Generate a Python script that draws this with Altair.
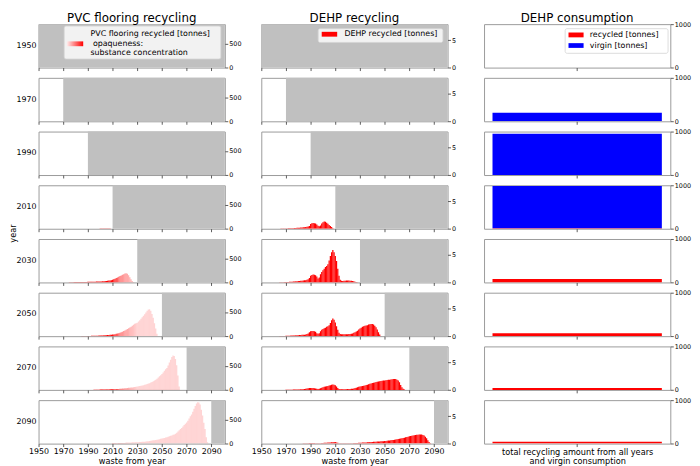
import altair as alt
import pandas as pd

# ---------------- data ----------------
ROW_YEARS = [1950, 1970, 1990, 2010, 2030, 2050, 2070, 2090]
X_TICKS = [1950, 1970, 1990, 2010, 2030, 2050, 2070, 2090]
X_START, X_END = 1950, 2101

COL_TITLES = ["PVC flooring recycling", "DEHP recycling", "DEHP consumption"]
Y_MAX = [900, 7.9, 1000]
Y_TICKS = [[0, 500], [0, 5], [0, 1000]]

# PVC flooring recycled [tonnes], by waste year (first year, yearly values)
PVC_2010 = (1995, [1, 1, 2, 2, 2, 3, 3, 4, 4, 5, 5, 6, 5, 3, 1])
PVC_2030 = (1975, [5, 5, 6, 6, 7, 7, 8, 8, 9, 9, 10, 10, 11, 11, 12,
                   13, 13, 14, 15, 15, 16, 17, 18, 19, 20,
                   21, 22, 24, 26, 29, 32, 35, 39, 43, 47,
                   55, 65, 78, 92, 105, 118, 132, 146, 160, 172,
                   185, 192, 180, 150, 110, 66, 30, 8])
PVC_2050 = (1985, [3, 3, 4, 4, 5, 5, 6, 6, 7, 8, 8, 9, 10, 11, 12,
                   13, 14, 15, 17, 19, 21, 23, 25, 27, 30,
                   33, 37, 42, 48, 55, 62, 70, 80, 92, 105,
                   118, 132, 147, 162, 178, 197, 215, 235, 255, 270,
                   280, 305, 330, 360, 390, 425, 455, 490, 525, 552,
                   555, 525, 460, 380, 270, 160, 50])
PVC_2070 = (1995, [3, 3, 4, 4, 5,
                   6, 6, 7, 7, 8, 8, 9, 10, 11, 12,
                   13, 14, 15, 16, 18, 20, 22, 24, 27, 30,
                   33, 36, 39, 42, 45, 48, 52, 56, 60, 64,
                   68, 73, 78, 84, 90, 97, 105, 113, 122, 131,
                   140, 152, 165, 180, 195, 212, 230, 255, 280, 305,
                   330, 360, 395, 425, 455, 505, 565, 625, 680, 712,
                   700, 640, 510, 300, 70])
PVC_2090 = (2005, [2, 2, 3, 3, 4,
                   5, 6, 7, 8, 9, 10, 11, 12, 13, 14,
                   15, 16, 17, 18, 19, 20, 21, 22, 24, 26,
                   28, 30, 32, 34, 36, 38, 40, 43, 47, 51,
                   55, 59, 63, 67, 71, 76, 81, 86, 92, 98,
                   104, 110, 117, 125, 133, 142, 151, 160, 170, 182,
                   190, 205, 225, 250, 275, 300, 325, 355, 385, 410,
                   435, 475, 520, 565, 605, 660, 720, 780, 830, 855,
                   850, 810, 700, 580, 430, 300, 130, 30])
PVC = {2010: PVC_2010, 2030: PVC_2030, 2050: PVC_2050, 2070: PVC_2070, 2090: PVC_2090}

# opaqueness (substance concentration) by waste year
OPAQ_EARLY = 1.0
OPAQ_START = 2009
OPAQ = [1.0, 0.95, 0.9, 0.8, 0.7, 0.62, 0.55, 0.5, 0.46, 0.42, 0.4,
        0.38, 0.36, 0.34, 0.32, 0.3, 0.28, 0.26, 0.24, 0.22, 0.2]
OPAQ_LATE = 0.17

# DEHP recycled [tonnes], by waste year
DEHP_2010 = (1965, [0.02, 0.03, 0.03, 0.04, 0.05,
                    0.05, 0.06, 0.07, 0.08, 0.09, 0.1, 0.11, 0.13, 0.15, 0.17,
                    0.19, 0.2, 0.22, 0.24, 0.26, 0.28, 0.31, 0.35, 0.4, 0.5,
                    0.85, 1.0, 1.05, 1.0, 0.95, 0.75, 0.55, 0.45, 0.6, 0.95,
                    1.2, 1.3, 1.25, 1.1, 0.9, 0.7, 0.5, 0.3, 0.1])
DEHP_2030 = (1965, [0.03, 0.04, 0.05, 0.06, 0.07,
                    0.08, 0.09, 0.1, 0.11, 0.13, 0.15, 0.17, 0.19, 0.21, 0.23,
                    0.25, 0.27, 0.3, 0.32, 0.35, 0.38, 0.42, 0.48, 0.6, 0.8,
                    1.2, 1.35, 1.45, 1.4, 1.3, 1.1, 0.7, 0.9, 1.5, 1.9,
                    2.2, 2.5, 2.8, 3.0, 3.3, 4.0, 4.8, 5.5, 5.9, 5.5,
                    4.8, 3.9, 2.5, 1.2, 0.5, 0.3, 0.28, 0.3, 0.32, 0.34,
                    0.35, 0.35, 0.33, 0.3, 0.27, 0.22, 0.15, 0.08, 0.03])
DEHP_2050 = (1965, [0.02, 0.03, 0.03, 0.04, 0.05,
                    0.06, 0.07, 0.08, 0.09, 0.1, 0.11, 0.12, 0.14, 0.15, 0.17,
                    0.18, 0.2, 0.22, 0.24, 0.26, 0.28, 0.32, 0.38, 0.5, 0.7,
                    0.9, 0.95, 0.95, 0.9, 0.8, 0.55, 0.45, 0.55, 0.9, 1.15,
                    1.3, 1.45, 1.55, 1.7, 1.8, 2.0, 2.4, 2.9, 3.2, 3.0,
                    2.5, 1.8, 1.15, 0.6, 0.4, 0.35, 0.33, 0.33, 0.34, 0.35,
                    0.37, 0.38, 0.4, 0.43, 0.5, 0.6, 0.72, 0.85, 1.0, 1.2,
                    1.4, 1.55, 1.7, 1.8, 1.9, 1.95, 2.0, 2.1, 2.15, 2.2,
                    2.2, 2.1, 1.9, 1.6, 1.2, 0.7, 0.3, 0.05])
DEHP_2070 = (1970, [0.02, 0.02, 0.03, 0.03, 0.04, 0.04, 0.05, 0.05, 0.06, 0.07,
                    0.08, 0.09, 0.1, 0.11, 0.12, 0.14, 0.2, 0.25, 0.3, 0.33,
                    0.35, 0.35, 0.33, 0.3, 0.25, 0.2, 0.17, 0.2, 0.3, 0.4,
                    0.5, 0.55, 0.6, 0.65, 0.7, 0.8, 0.85, 0.95, 1.0, 0.95,
                    0.85, 0.6, 0.35, 0.17, 0.12, 0.1, 0.1, 0.11, 0.12, 0.13,
                    0.14, 0.15, 0.17, 0.19, 0.22, 0.27, 0.33, 0.4, 0.48, 0.56,
                    0.62, 0.66, 0.71, 0.76, 0.82, 0.88, 0.95, 1.02, 1.1, 1.18,
                    1.25, 1.3, 1.36, 1.42, 1.48, 1.54, 1.58, 1.62, 1.66, 1.7,
                    1.72, 1.75, 1.78, 1.82, 1.86, 1.9, 1.95, 1.98, 2.0, 1.97,
                    1.85, 1.7, 1.4, 0.9, 0.5, 0.2, 0.05])
DEHP_2090 = (1975, [0.02, 0.02, 0.02, 0.03, 0.03,
                    0.03, 0.04, 0.04, 0.04, 0.05, 0.05, 0.06, 0.07, 0.08, 0.09,
                    0.1, 0.1, 0.1, 0.09, 0.08, 0.07, 0.06, 0.07, 0.08, 0.1,
                    0.12, 0.14, 0.15, 0.17, 0.18, 0.2, 0.22, 0.24, 0.26, 0.28,
                    0.27, 0.22, 0.15, 0.08, 0.06, 0.05, 0.05, 0.05, 0.05, 0.06,
                    0.06, 0.06, 0.07, 0.07, 0.08, 0.09, 0.1, 0.11, 0.12, 0.14,
                    0.15, 0.16, 0.18, 0.19, 0.2, 0.22, 0.24, 0.26, 0.28, 0.3,
                    0.31, 0.32, 0.34, 0.35, 0.37, 0.38, 0.4, 0.41, 0.43, 0.45,
                    0.47, 0.49, 0.52, 0.55, 0.58, 0.61, 0.64, 0.67, 0.7, 0.74,
                    0.78, 0.82, 0.87, 0.92, 0.98, 1.03, 1.08, 1.14, 1.2, 1.26,
                    1.32, 1.38, 1.43, 1.48, 1.53, 1.57, 1.6, 1.63, 1.65, 1.66,
                    1.64, 1.58, 1.45, 1.25, 0.95, 0.6, 0.3, 0.1, 0.02])
DEHP = {2010: DEHP_2010, 2030: DEHP_2030, 2050: DEHP_2050, 2070: DEHP_2070, 2090: DEHP_2090}

# DEHP consumption [tonnes] per row year
CONS_SERIES = ["recycled [tonnes]", "virgin [tonnes]"]
CONS_RECYCLED = [0, 0, 0, 10, 80, 70, 45, 40]
CONS_VIRGIN = [0, 195, 950, 975, 0, 0, 0, 0]

# ---------------- style ----------------
W, H = 189, 44.1
ROW_GAP, COL_GAP = 9.5, 37
FONT = "DejaVu Sans"
GREY = "#c0c0c0"
RED, BLUE = "#ff0000", "#0000ff"
ONE = pd.DataFrame({"k": [0]})


def opacity_for(y):
    if y < OPAQ_START:
        return OPAQ_EARLY
    i = y - OPAQ_START
    return OPAQ[i] if i < len(OPAQ) else OPAQ_LATE


def series_df(start, vals, with_op=False):
    years = list(range(start, start + len(vals)))
    d = pd.DataFrame({"year": years, "value": vals})
    d["x0"] = d["year"] - 0.5
    d["x1"] = d["year"] + 0.5
    if with_op:
        d["op"] = [opacity_for(y) for y in years]
    return d


def x_axis(last):
    return alt.Axis(values=X_TICKS, labels=last, ticks=True, tickSize=3, format="d",
                    labelFontSize=8, labelPadding=1.5, labelFlush=False,
                    labelOverlap=False, title="waste from year" if last else None,
                    titleFontSize=8.3, titleFontWeight="normal", titlePadding=1,
                    grid=False, domain=False)


def y_axis(ticks):
    return alt.Axis(orient="right", values=ticks, tickSize=3, labelFontSize=6.5, format="d",
                    labelPadding=1, labelFlush=False, labelOverlap=False,
                    title=None, grid=False, domain=False)


def txt(s, x, y, size=8, align="left", **kw):
    return alt.Chart(ONE).mark_text(text=s, align=align, baseline="middle",
                                    fontSize=size, font=FONT, color="black", **kw
                                    ).encode(x=alt.value(x), y=alt.value(y))


def box(x1, x2, y1, y2, **kw):
    return alt.Chart(ONE).mark_rect(**kw).encode(
        x=alt.value(x1), x2=alt.value(x2), y=alt.value(y1), y2=alt.value(y2))


def col_title(c):
    return txt(COL_TITLES[c], W / 2, -6, size=12, align="center")


def series_panel(c, i, ry, table, with_op):
    last = i == len(ROW_YEARS) - 1
    xs = alt.Scale(domain=[X_START, X_END], nice=False, zero=False)
    ys = alt.Scale(domain=[0, Y_MAX[c]], nice=False)
    xa, ya = x_axis(last), y_axis(Y_TICKS[c])
    grey = alt.Chart(pd.DataFrame({"a": [ry], "b": [X_END]})).mark_rect(color=GREY).encode(
        x=alt.X("a:Q", scale=xs, axis=xa), x2="b:Q",
        y=alt.Y(datum=0, scale=ys, axis=ya), y2=alt.Y2(datum=Y_MAX[c]))
    layers = [grey]
    if ry in table:
        start, vals = table[ry]
        enc = dict(x=alt.X("x0:Q", scale=xs, axis=xa), x2="x1:Q",
                   y=alt.Y("value:Q", scale=ys, axis=ya), y2=alt.Y2(datum=0))
        if with_op:
            enc["opacity"] = alt.Opacity("op:Q", scale=None)
        layers.append(alt.Chart(series_df(start, vals, with_op)).mark_rect(
            color=RED, clip=True).encode(**enc))
    if c == 0:
        layers.append(txt(str(ry), -2, H / 2, size=8, align="right"))
        if i == 3:
            layers.append(txt("year", -25, 49, size=8.3, align="center", angle=270))
    if i == 0 and c == 0:
        grad = alt.LinearGradient(gradient="linear", x1=0, x2=1, y1=0, y2=0,
                                  stops=[alt.GradientStop(offset=0, color="#ffeeee"),
                                         alt.GradientStop(offset=1, color=RED)])
        layers += [box(26, 185, 2, 35.4, fill="#f2f2f2", stroke="#d4d4d4", strokeWidth=0.8, cornerRadius=2),
                   box(28.7, 45.3, 17.5, 22.4, color=grad),
                   txt("PVC flooring recycled [tonnes]", 52.7, 10.5),
                   txt("opaqueness:", 55.2, 19.9),
                   txt("substance concentration", 52.7, 29.1)]
    if i == 0 and c == 1:
        layers += [box(57.7, 184.3, 4.6, 18.6, fill="#f2f2f2", stroke="#d4d4d4", strokeWidth=0.8, cornerRadius=2),
                   box(61.3, 77, 7.8, 12.7, color=RED),
                   txt("DEHP recycled [tonnes]", 84.3, 10.5)]
    if i == 0:
        layers.append(col_title(c))
    return alt.layer(*layers).properties(width=W, height=H)


def cons_panel(i, ry):
    last = i == len(ROW_YEARS) - 1
    d = pd.DataFrame({"cat": ["all", "all"], "type": CONS_SERIES,
                      "value": [CONS_RECYCLED[i], CONS_VIRGIN[i]], "ord": [0, 1]})
    xa = alt.Axis(labels=False, ticks=True, tickSize=3, domain=False, grid=False,
                  title=["total recycling amount from all years", "and virgin consumption"] if last else None,
                  titleFontSize=8.3, titleFontWeight="normal", titlePadding=1, titleLineHeight=8.8)
    bars = alt.Chart(d).mark_bar(clip=True).encode(
        x=alt.X("cat:N", scale=alt.Scale(paddingInner=0, paddingOuter=0.05), axis=xa),
        y=alt.Y("value:Q", stack="zero", scale=alt.Scale(domain=[0, Y_MAX[2]], nice=False),
                axis=y_axis(Y_TICKS[2])),
        color=alt.Color("type:N", scale=alt.Scale(domain=CONS_SERIES, range=[RED, BLUE]), legend=None),
        order=alt.Order("ord:Q"))
    layers = [bars]
    if i == 0:
        layers += [box(82.3, 186.7, 4.6, 29.6, fill="white", stroke="#d4d4d4", strokeWidth=0.8, cornerRadius=2),
                   box(85.7, 101, 8.5, 13.4, color=RED),
                   box(85.7, 101, 19.3, 24.1, color=BLUE),
                   txt(CONS_SERIES[0], 107.3, 11.1),
                   txt(CONS_SERIES[1], 107.3, 21.9),
                   col_title(2)]
    return alt.layer(*layers).properties(width=W, height=H)


panels = []
for i, ry in enumerate(ROW_YEARS):
    panels.append(series_panel(0, i, ry, PVC, True))
    panels.append(series_panel(1, i, ry, DEHP, False))
    panels.append(cons_panel(i, ry))

chart = alt.concat(*panels, columns=3, spacing={"row": ROW_GAP, "column": COL_GAP},
                   bounds="flush", padding=0).configure(font=FONT).configure_view(
    stroke="#9a9a9a", strokeWidth=1).configure_axis(
    labelFont=FONT, titleFont=FONT, labelColor="black", titleColor="black",
    tickColor="#333333", tickWidth=0.8)

chart.save("out.html", embed_options={"renderer": "svg", "actions": False})
